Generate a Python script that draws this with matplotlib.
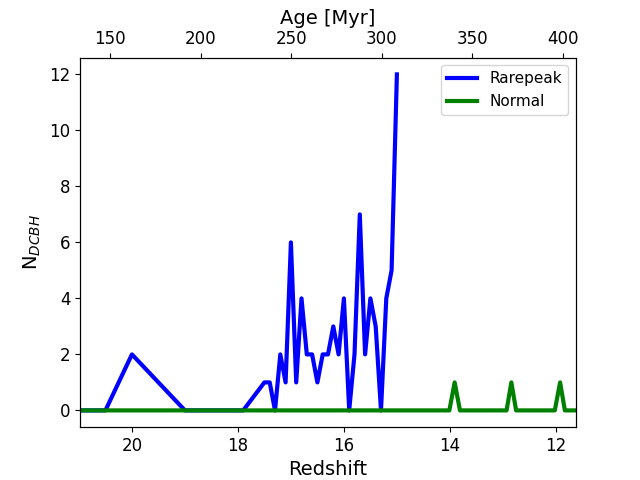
import matplotlib
matplotlib.use("Agg")
import matplotlib.pyplot as plt

# Rarepeak series
rare_z = [21.0, 20.5, 20.0, 19.0, 17.9, 17.5, 17.4, 17.3, 17.2, 17.1, 17.0, 16.9,
          16.8, 16.7, 16.6, 16.5, 16.4, 16.3, 16.2, 16.1, 16.0, 15.9, 15.8, 15.7,
          15.6, 15.5, 15.4, 15.3, 15.2, 15.1, 15.0]
rare_n = [0, 0, 2, 0, 0, 1, 1, 0, 2, 1, 6, 1,
          4, 2, 2, 1, 2, 2, 3, 2, 4, 0, 2, 7,
          2, 4, 3, 0, 4, 5, 12]

# Normal series
norm_z = [21.0, 14.01, 13.91, 13.81, 12.93, 12.84, 12.75, 12.02, 11.92, 11.83, 11.6]
norm_n = [0, 0, 1, 0, 0, 1, 0, 0, 1, 0, 0]

z_lim = (20.98, 11.62)
age_lim = (133.4, 407.2)

fig, ax = plt.subplots(figsize=(6.4, 4.8), dpi=100)
ax.plot(rare_z, rare_n, color="blue", lw=3, label="Rarepeak")
ax.plot(norm_z, norm_n, color="green", lw=3, label="Normal")
ax.set_xlim(*z_lim)
ax.set_xlabel("Redshift", fontsize=14)
ax.set_ylabel(r"N$_{DCBH}$", fontsize=14)
ax.tick_params(labelsize=12)
ax.legend(fontsize=11, loc="upper right")

ax2 = ax.twiny()
ax2.set_xlim(*age_lim)
ax2.set_xlabel("Age [Myr]", fontsize=14)
ax2.tick_params(labelsize=12)

fig.savefig("out.png", dpi=100)
